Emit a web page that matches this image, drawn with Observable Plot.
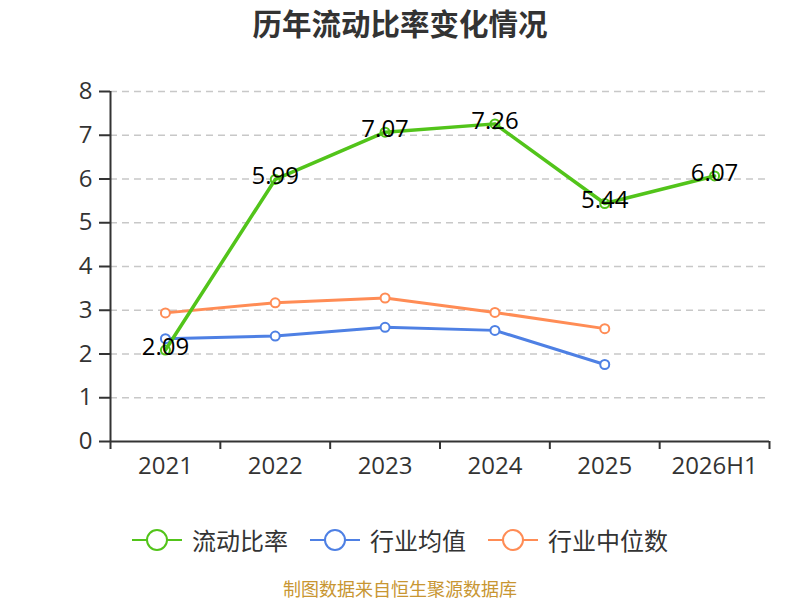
<!DOCTYPE html>
<html>
<head>
<meta charset="utf-8">
<script src="https://cdn.jsdelivr.net/npm/d3@7"></script>
<script src="https://cdn.jsdelivr.net/npm/@observablehq/plot@0.6"></script>
<style>
  body { margin: 0; background: #fff; }
  #wrap { position: relative; width: 800px; height: 600px; font-family: "Open Sans", "Noto Sans CJK SC", sans-serif; }
  #title { position: absolute; top: 4px; left: 0; width: 800px; text-align: center; font-family: "Noto Sans CJK SC", sans-serif; font-weight: bold; font-size: 29.5px; color: #333; line-height: 36px; }
  #chart { position: absolute; top: 60px; left: 0; }
  #legend { position: absolute; top: 522px; left: 0; width: 800px; display: flex; justify-content: center; align-items: center; font-family: "Noto Sans CJK SC", sans-serif; font-size: 24px; color: #333; }
  .item { display: flex; align-items: center; margin: 0 11px; }
  .item svg { margin-right: 10px; }
  #caption { position: absolute; top: 576px; left: 0; width: 800px; text-align: center; font-family: "Noto Sans CJK SC", sans-serif; font-size: 18px; color: #c89632; line-height: 24px; }
</style>
</head>
<body>
<div id="wrap">
  <div id="title">历年流动比率变化情况</div>
  <div id="chart"></div>
  <div id="legend"></div>
  <div id="caption">制图数据来自恒生聚源数据库</div>
</div>
<script>
const categories = ["2021", "2022", "2023", "2024", "2025", "2026H1"];
const currentRatio = [2.09, 5.99, 7.07, 7.26, 5.44, 6.07];
const industryAvg = [2.35, 2.41, 2.61, 2.54, 1.76];
const industryMedian = [2.94, 3.17, 3.28, 2.95, 2.58];
const yTicks = [0, 1, 2, 3, 4, 5, 6, 7, 8];
const seriesNames = ["流动比率", "行业均值", "行业中位数"];
const seriesColors = ["#52c41a", "#4e80e4", "#ff8c55"];

const toRows = (vals) => vals.map((v, i) => ({i, v}));
const ratioRows = toRows(currentRatio);
const avgRows = toRows(industryAvg);
const medRows = toRows(industryMedian);
const catIdx = categories.map((c, i) => i);
const bounds = [...catIdx.map(i => i - 0.5), categories.length - 0.5];

const plot = Plot.plot({
  width: 800,
  height: 420,
  marginTop: 31,
  marginBottom: 39,
  marginLeft: 110,
  marginRight: 31,
  style: {fontFamily: "'Open Sans', 'Noto Sans CJK SC', sans-serif", color: "#333", background: "#fff"},
  x: {domain: [-0.5, categories.length - 0.5], axis: null, label: null},
  y: {domain: [0, 8], axis: null, label: null},
  marks: [
    Plot.gridY(yTicks.slice(1), {stroke: "#c8c8c8", strokeOpacity: 1, strokeWidth: 1.5, strokeDasharray: "7,5"}),
    Plot.ruleX([-0.5], {stroke: "#333", strokeWidth: 2}),
    Plot.ruleY([0], {stroke: "#333", strokeWidth: 2}),
    Plot.axisY({ticks: yTicks, label: null, tickSize: 11, tickPadding: 7, fontSize: 24, stroke: "#333", strokeWidth: 2, fill: "#333"}),
    Plot.axisX({ticks: bounds, label: null, tickSize: 8, tickFormat: () => "", stroke: "#333", strokeWidth: 2}),
    Plot.axisX({ticks: catIdx, label: null, tickSize: 0, tickPadding: 15, tickFormat: i => categories[i], fontSize: 24, fill: "#333"}),
    Plot.line(medRows, {x: "i", y: "v", stroke: seriesColors[2], strokeWidth: 3}),
    Plot.dot(medRows, {x: "i", y: "v", r: 4.5, stroke: seriesColors[2], strokeWidth: 2, fill: "#fff"}),
    Plot.line(avgRows, {x: "i", y: "v", stroke: seriesColors[1], strokeWidth: 3}),
    Plot.dot(avgRows, {x: "i", y: "v", r: 4.5, stroke: seriesColors[1], strokeWidth: 2, fill: "#fff"}),
    Plot.dot(ratioRows, {x: "i", y: "v", r: 4.5, stroke: seriesColors[0], strokeWidth: 2, fill: "#fff"}),
    Plot.line(ratioRows, {x: "i", y: "v", stroke: seriesColors[0], strokeWidth: 3.5}),
    Plot.text(ratioRows, {x: "i", y: "v", text: d => d.v.toFixed(2), dy: -3, fontSize: 24, fill: "#000", lineAnchor: "middle"})
  ]
});
document.getElementById("chart").appendChild(plot);

const legend = document.getElementById("legend");
seriesNames.forEach((name, k) => {
  const item = document.createElement("div");
  item.className = "item";
  item.innerHTML = `<svg width="50" height="24"><line x1="0" y1="12" x2="50" y2="12" stroke="${seriesColors[k]}" stroke-width="2"/><circle cx="25" cy="12" r="10" fill="#fff" stroke="${seriesColors[k]}" stroke-width="2"/></svg><span>${name}</span>`;
  legend.appendChild(item);
});
</script>
</body>
</html>
